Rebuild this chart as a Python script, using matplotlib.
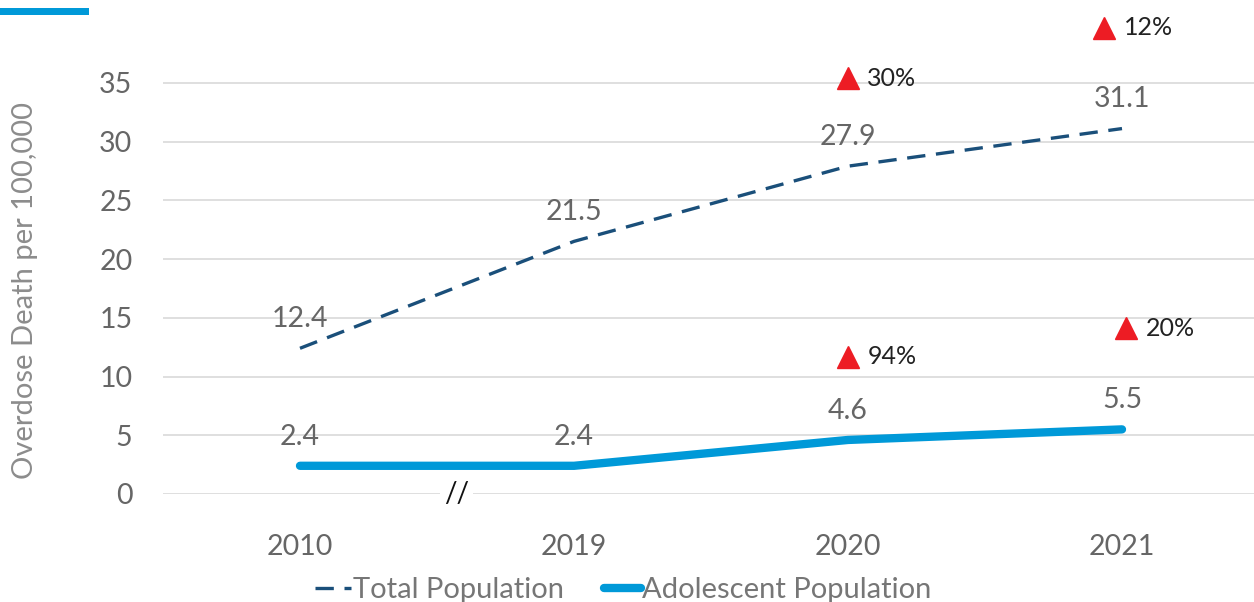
import matplotlib
matplotlib.use('Agg')
import matplotlib.pyplot as plt
from matplotlib.patches import Rectangle

plt.rcParams['font.family'] = ['Lato', 'DejaVu Sans']

# Overdose deaths per 100,000
years = ['2010', '2019', '2020', '2021']
total_pop = [12.4, 21.5, 27.9, 31.1]
adolescent_pop = [2.4, 2.4, 4.6, 5.5]

# Year-over-year increases, shown with red triangles (2020, 2021)
total_change = ['30%', '12%']
adolescent_change = ['94%', '20%']

GREY = '#666666'
LIGHT_GREY = '#8c8c8c'
NAVY = '#1a4f7a'
BLUE = '#0099d8'
RED = '#ed1c24'

fig = plt.figure(figsize=(12.54, 6.02), dpi=100)
ax = fig.add_axes([163 / 1254, 108 / 602, 1096 / 1254, 470 / 602])

x = list(range(len(years)))
ax.plot(x, total_pop, color=NAVY, lw=2.4, dashes=(5.5, 3.2),
        label='Total Population', solid_capstyle='butt')
ax.plot(x, adolescent_pop, color=BLUE, lw=6, solid_capstyle='round',
        label='Adolescent Population')

for xi, v in zip(x, total_pop):
    ax.annotate(f'{v}', (xi, v), xytext=(0, 21), textcoords='offset points',
                ha='center', va='center', fontsize=20.5, color=GREY)
for xi, v in zip(x, adolescent_pop):
    ax.annotate(f'{v}', (xi, v), xytext=(0, 21), textcoords='offset points',
                ha='center', va='center', fontsize=20.5, color=GREY)

# change markers above the 2020 and 2021 points
tri_total = [(2.0, 35.4), (2.935, 39.7)]
tri_adol = [(2.0, 11.7), (3.015, 14.1)]
for (tx, ty), lab in zip(tri_total + tri_adol, total_change + adolescent_change):
    ax.plot(tx, ty, marker='^', ms=16, color=RED, clip_on=False, zorder=5)
    ax.annotate(lab, (tx, ty), xytext=(14, 0), textcoords='offset points',
                ha='left', va='center', fontsize=18, color='#222222')

ax.set_xlim(-0.5, 3.5)
ax.set_ylim(0, 40)
ax.set_yticks(range(0, 40, 5))
ax.set_xticks(x)
ax.set_xticklabels(years)
ax.tick_params(axis='both', length=0, labelsize=20.5, labelcolor=GREY)
ax.tick_params(axis='x', pad=29)
ax.tick_params(axis='y', pad=22)
ax.grid(axis='y', color='#d9d9d9', lw=1.2)
ax.set_axisbelow(True)
for s in ax.spines.values():
    s.set_visible(False)

ax.set_ylabel('Overdose Death per 100,000', fontsize=21, color=LIGHT_GREY)
ax.yaxis.set_label_coords(-0.114, 0.434)

# axis break between 2010 and 2019
ax.text(0.57, 0, '//', ha='center', va='center', fontsize=20, color='#111111',
        bbox=dict(facecolor='white', edgecolor='none', pad=3), zorder=4)

ax.legend(loc='center', bbox_to_anchor=(0.497, 0.02), bbox_transform=fig.transFigure,
          ncol=2, frameon=False, fontsize=21, labelcolor='#767676',
          handlelength=1.25, handletextpad=0.05, columnspacing=1.4)

# accent bar at the top-left corner
fig.add_artist(Rectangle((0, 1 - 15 / 602), 89 / 1254, 7 / 602,
                         transform=fig.transFigure, color=BLUE, lw=0))

fig.savefig('out.png', dpi=100, facecolor='white')
